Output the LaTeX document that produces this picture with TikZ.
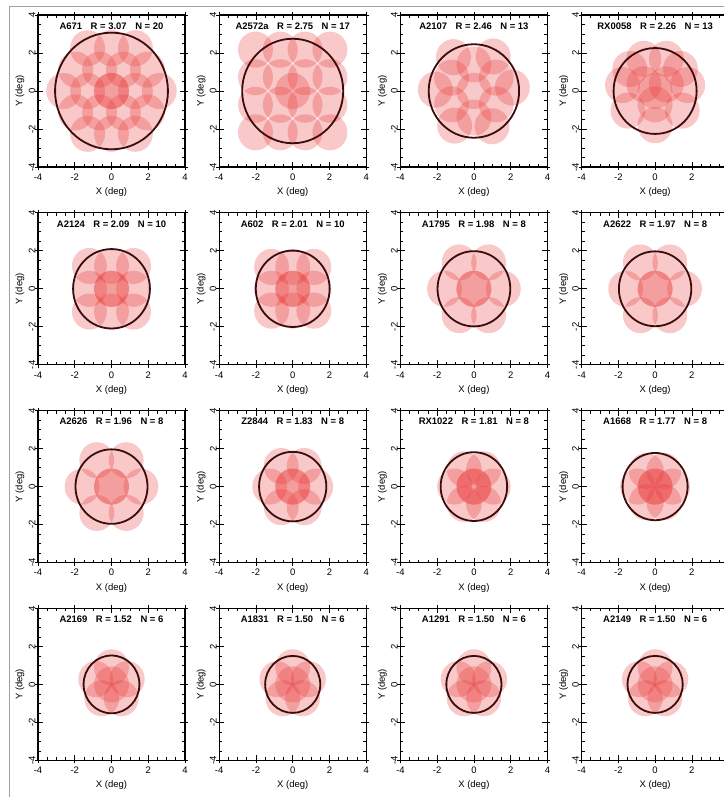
\documentclass[tikz,border=0pt]{standalone}
\usepackage{fontspec}
\setmainfont{Liberation Sans}
\usepackage{xcolor}
\definecolor{fieldred}{HTML}{E83232}
\definecolor{ringbrown}{HTML}{3A0C0C}
\definecolor{framegray}{HTML}{A0A0A0}

% one pointing, radius in deg
\newcommand{\pnt}[1]{\fill[pnt] (#1) circle (0.95);}
\newcommand{\hexfield}[1]{\pnt{0,0}\pnt{0,0}
  \foreach \a in {0,60,...,300}{\pnt{\a:#1}\pnt{\a:{2*#1}}\pnt{{\a+30}:{1.732*#1}}}}
\newcommand{\gridfour}[2]{\pnt{0,0}
  \foreach \u in {-1.5,-0.5,0.5,1.5}{\foreach \w in {-1.5,-0.5,0.5,1.5}{\pnt{\u*#1,\w*#2}}}}
\newcommand{\gridthree}[1]{\pnt{0,0}
  \foreach \u in {-1,0,1}{\foreach \w in {-1,0,1}{\pnt{\u*#1,\w*#1}}}}
\newcommand{\ringsix}[1]{\pnt{0,0}\pnt{0,0}\foreach \a in {0,60,...,300}{\pnt{\a:#1}}}
\newcommand{\ringfive}[1]{\pnt{0,0}\foreach \a in {18,90,162,234,306}{\pnt{\a:#1}}}
\newcommand{\skewfield}{\pnt{0,0}
  \foreach \a in {30,90,...,330}{\pnt{\a:1.4}}
  \foreach \a in {5,60,122,178,240,298}{\pnt{\a:2.1}}}
\newcommand{\triofield}{\pnt{0,0}
  \foreach \a in {30,150,270}{\pnt{\a:0.7}}
  \foreach \a in {10,40,70,110,140,170,215,270,325}{\pnt{\a:1.8}}}

\begin{document}
\begin{tikzpicture}[x=1bp, y=1bp,
  pnt/.style={fill=fieldred, fill opacity=0.27},
  rcirc/.style={draw=ringbrown, line width=1.8bp},
  boxline/.style={draw=black, line width=1.1bp},
  tickline/.style={black, line width=0.7bp},
  ttl/.style={font=\bfseries\fontsize{9.5}{11}\selectfont, inner sep=0pt},
  tlab/.style={font=\fontsize{9.5}{11}\selectfont, inner sep=0pt},
  alab/.style={font=\fontsize{9.5}{11}\selectfont, inner sep=0pt}]
  \useasboundingbox (0,0) rectangle (724,797);
  \clip (0,0) rectangle (724,797);
  \draw[framegray, line width=1bp] (724,790) -- (9,790) -- (9,0);

  \foreach \c/\r/\nm/\rr/\nn/\pat [count=\i] in {
      0/0/A671/3.07/20/{\hexfield{1.3}}, 1/0/A2572a/2.75/17/{\gridfour{1.35}{1.45}},
      2/0/A2107/2.46/13/{\skewfield}, 3/0/RX0058/2.26/13/{\triofield},
      0/1/A2124/2.09/10/{\gridthree{1.2}}, 1/1/A602/2.01/10/{\gridthree{1.15}},
      2/1/A1795/1.98/8/{\ringsix{1.6}}, 3/1/A2622/1.97/8/{\ringsix{1.6}},
      0/2/A2626/1.96/8/{\ringsix{1.6}}, 1/2/Z2844/1.83/8/{\ringsix{1.25}},
      2/2/RX1022/1.81/8/{\ringsix{1.05}}, 3/2/A1668/1.77/8/{\ringsix{0.95}},
      0/3/A2169/1.52/6/{\ringfive{0.9}}, 1/3/A1831/1.50/6/{\ringfive{0.9}},
      2/3/A1291/1.50/6/{\ringfive{0.9}}, 3/3/A2149/1.50/6/{\ringfive{0.9}}}{
    \begin{scope}[shift={({38+181.2*\c},{630-197.8*\r})}]
      \begin{scope}[shift={(73.5,76)}, xscale=18.375, yscale=19]
        \pat
        \draw[rcirc] (0,0) circle (\rr);
      \end{scope}
      \foreach \k in {1,...,15}{
        \draw[tickline] ({\k*9.1875},0) -- ++(0,3) ({\k*9.1875},152) -- ++(0,-3)
          (0,{\k*9.5}) -- ++(3,0) (147,{\k*9.5}) -- ++(-3,0);
      }
      \foreach \k in {0,4,8,12,16}{
        \draw[tickline] ({\k*9.1875},-3) -- ++(0,8) ({\k*9.1875},155) -- ++(0,-8)
          (-3,{\k*9.5}) -- ++(8,0) (150,{\k*9.5}) -- ++(-8,0);
      }
      \draw[boxline] (0,0) rectangle (147,152);
      \node[ttl] (ttl\i) at (73.5,141) {\nm\hspace{0.9em}R = \rr\hspace{0.9em}N = \nn};
      \foreach \v [count=\j] in {-4,-2,0,2,4}{
        % labels past the right page edge are left out
        \pgfmathtruncatemacro\xend{38+181.2*\c+(\v+4)*18.375}
        \ifnum\xend<720
          \node[tlab] (xt\i-\j) at ({(\v+4)*18.375},-10) {\v};
        \fi
        \node[tlab, rotate=90] (yt\i-\j) at (-6,{(\v+4)*19}) {\v};
      }
      \node[alab] (xl\i) at (73.5,-25) {X (deg)};
      \node[alab, rotate=90] (yl\i) at (-18,76) {Y (deg)};
    \end{scope}
  }
\end{tikzpicture}
\end{document}
